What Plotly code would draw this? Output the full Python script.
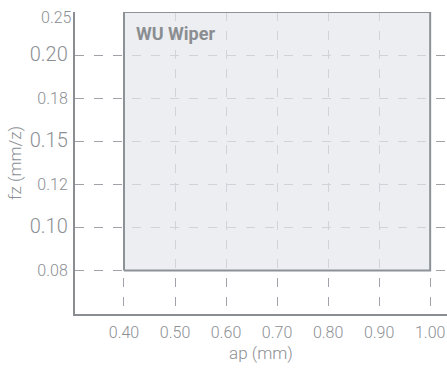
import plotly.graph_objects as go

# ---- data ----
ap_range = [0.40, 1.00]            # WU Wiper: depth of cut ap (mm)
fz_range = [0.075, 0.225]          # WU Wiper: feed per tooth fz (mm/z)
region_name = "WU Wiper"

ap_tickvals = [0.40, 0.50, 0.60, 0.70, 0.80, 0.90, 1.00]
ap_ticktext = ["0.40", "0.50", "0.60", "0.70", "0.80", "0.90", "1.00"]
fz_tickvals = [0.075, 0.100, 0.125, 0.150, 0.175, 0.200]
fz_ticktext = ["0.08", "0.10", "0.12", "0.15", "0.18", "0.20"]
fz_top_label = "0.25"                 # label printed at the top end of the fz axis
fz_major = ["0.10", "0.15", "0.20"]   # labels shown in the larger size

TEXT = "#8c8f93"
AXIS = "#8a8e93"
GRID = "#9fa3a7"
FONT = "Roboto"

def fz_label(t):
    size = 20 if t in fz_major else 16
    return f'<span style="font-size:{size}px">{t}</span>'

box_x = [ap_range[0], ap_range[1], ap_range[1], ap_range[0], ap_range[0]]
box_y = [fz_range[0], fz_range[0], fz_range[1], fz_range[1], fz_range[0]]

fig = go.Figure()
fig.add_trace(go.Scatter(
    x=box_x, y=box_y, mode="lines", fill="toself",
    fillcolor="rgba(229,231,235,0.70)",
    line=dict(color="#8d9297", width=2),
    hoverinfo="skip", showlegend=False, cliponaxis=False,
))

fig.add_annotation(
    x=ap_range[0], y=fz_range[1], xref="x", yref="y",
    text=f"<b>{region_name}</b>", showarrow=False,
    xanchor="left", yanchor="top", xshift=10, yshift=-9,
    font=dict(family=FONT, size=18, color="#8a8d91"),
)

# axis-end label at the top of the fz axis
fig.add_annotation(
    x=0, y=fz_range[1], xref="paper", yref="y",
    text=fz_top_label, showarrow=False,
    xanchor="right", yanchor="middle", xshift=-1, yshift=-5,
    font=dict(family=FONT, size=16, color=TEXT, weight=300),
)

fig.update_layout(
    width=447, height=369,
    margin=dict(l=75, r=0, t=12, b=55, autoexpand=False),
    paper_bgcolor="white", plot_bgcolor="white",
    font=dict(family=FONT, color=TEXT, size=16),
    showlegend=False,
)

fig.update_xaxes(
    range=[0.304, 1.033], automargin=False,
    tickvals=ap_tickvals, ticktext=ap_ticktext,
    tickfont=dict(family=FONT, size=16, color=TEXT, weight=300),
    showline=True, linecolor=AXIS, linewidth=2,
    showgrid=True, gridcolor=GRID, gridwidth=1.3, griddash="9px,10px",
    zeroline=False, ticks="",
    ticklabelstandoff=3,
    title=dict(text="ap (mm)", font=dict(family=FONT, size=17, color=TEXT, weight=300), standoff=6),
)

fig.update_yaxes(
    range=[0.0497, 0.225], automargin=False,
    tickvals=fz_tickvals, ticktext=[fz_label(t) for t in fz_ticktext],
    tickfont=dict(family=FONT, size=16, color=TEXT, weight=300),
    showline=True, linecolor=AXIS, linewidth=2,
    showgrid=True, gridcolor=GRID, gridwidth=1.3, griddash="9px,10px",
    zeroline=False, ticks="",
    ticklabelstandoff=2,
    title=dict(text="fz (mm/z)", font=dict(family=FONT, size=17, color=TEXT, weight=300), standoff=4),
)

fig.write_html(
    "out.html",
    config={"displayModeBar": False},
    post_script="document.body.style.margin='0';document.documentElement.style.overflow='hidden';",
)
